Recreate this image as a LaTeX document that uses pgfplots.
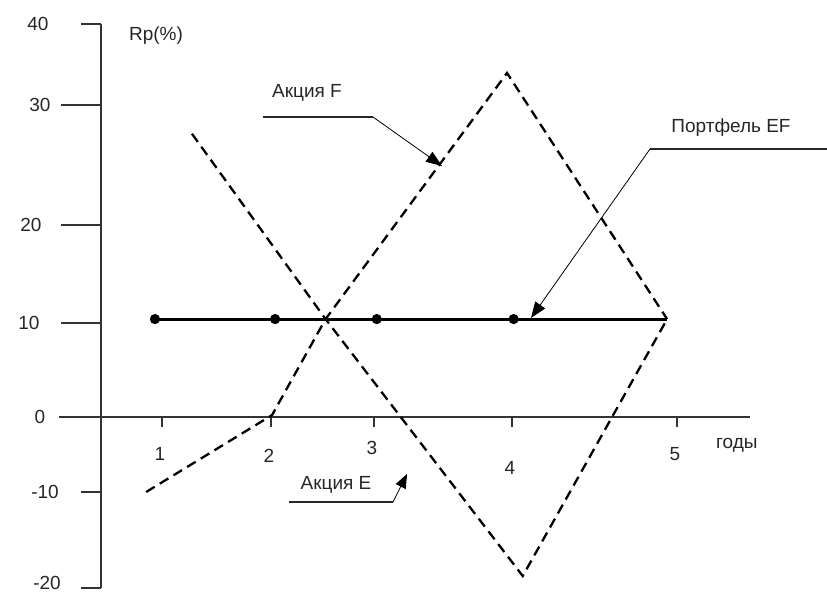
\documentclass[border=0pt]{standalone}
\usepackage{pgfplots}
\pgfplotsset{compat=1.18}
\usetikzlibrary{arrows.meta}
\usepackage{fontspec}
\setmainfont{Liberation Sans}
\newcommand\sh[2]{\makebox[0pt]{\kern#1\relax #2}}
\begin{document}
\fontsize{19pt}{22pt}\selectfont
\begin{tikzpicture}
\begin{axis}[
  at={(59pt,4pt)}, anchor=south west,
  scale only axis, width=691pt, height=564pt,
  axis lines=middle,
  axis line style={-, draw=black!80, line width=1.3pt},
  x coord trafo/.code={\pgfmathparse{61*min(#1,1)+109*max(min(#1-1,1),0)+103*max(min(#1-2,1),0)+138*max(min(#1-3,1),0)+165*max(#1-4,0)}},
  y coord trafo/.code={\pgfmathparse{9.6*min(#1+10,0)+7.5*max(min(#1,0),-10)+9.4*max(min(#1,10),0)+9.8*max(min(#1-10,10),0)+12*max(min(#1-20,10),0)+8.1*max(#1-30,0)}},
  xmin=-0.6885, xmax=5.4424, ymin=-20, ymax=40,
  clip=false,
  hide obscured x ticks=false, hide obscured y ticks=false,
  tick align=outside,
  tick style={draw=black!80, line width=1.3pt},
  major tick length=20pt,
  minor tick length=40pt,
  xtick={1,2,3,4,5},
  xticklabels={\raisebox{3pt}{1},2,\raisebox{9pt}{3},\raisebox{-11pt}{4},\raisebox{3pt}{5}},
  xtick style={/pgfplots/major tick length=10pt},
  ytick={40,30,20,10,0,-10,-20},
  yticklabels={{\sh{-8pt}{40}},{\sh{-4pt}{30}},{\sh{-22pt}{20}},{\sh{-26pt}{10}},{\sh{-4pt}{0}},{\sh{6pt}{-10}},{\sh{10pt}{\raisebox{10pt}{-20}}}},
  minor ytick={30,20,10},
  xticklabel style={anchor=base, xshift=-2pt, yshift=-26pt, text=black!85},
  yticklabel style={anchor=center, xshift=-39pt, text=black!85},
  xlabel={годы}, ylabel={Rp(\%)},
  xlabel style={at={(axis description cs:0.981,0.2535)}, anchor=center, text=black!85},
  ylabel style={at={(axis description cs:0.1404,0.9787)}, anchor=center, rotate=0, text=black!85},
]
\addplot[black, line width=3pt, mark=*, mark size=3.5pt, mark indices={1,2,4,5}]
  coordinates {(0.885,10.4) (2.04,10.4) (2.53,10.4) (3.02,10.4) (4.01,10.4) (4.94,10.4)};
\addplot[black, line width=2.3pt, dash pattern=on 10pt off 6pt]
  coordinates {(0.74,-10) (2.01,0.2) (2.53,10.4) (3.964,33.95) (4.94,10.4)};
\addplot[black, line width=2.3pt, dash pattern=on 10pt off 6pt]
  coordinates {(1.275,27.6) (2.53,10.4) (4.065,-18.75) (4.94,10.4)};
\end{axis}
\begin{scope}[x=1pt,y=-1pt,shift={(0,-592)}]
  \node[text=black!85] at (307,93) {Акция F};
  \draw[line width=1.3pt, black!85] (263,117) -- (373,117);
  \draw[line width=0.8pt, black, -{Triangle[length=16pt,width=12pt]}] (373,117) -- (442,166);
  \node[text=black!85] at (731,128) {Портфель EF};
  \draw[line width=1.3pt, black!85] (650,149) -- (827,149);
  \draw[line width=0.8pt, black, -{Triangle[length=16pt,width=12pt]}] (650,149) -- (531,318);
  \node[text=black!85] at (336,485) {Акция E};
  \draw[line width=1.3pt, black!85] (289,502) -- (393,502);
  \draw[line width=0.8pt, black, -{Triangle[length=14pt,width=11pt]}] (393,502) -- (407,474);
\end{scope}
\pgfresetboundingbox
\path[use as bounding box] (0,0) rectangle (827pt,592pt);
\end{tikzpicture}
\end{document}
